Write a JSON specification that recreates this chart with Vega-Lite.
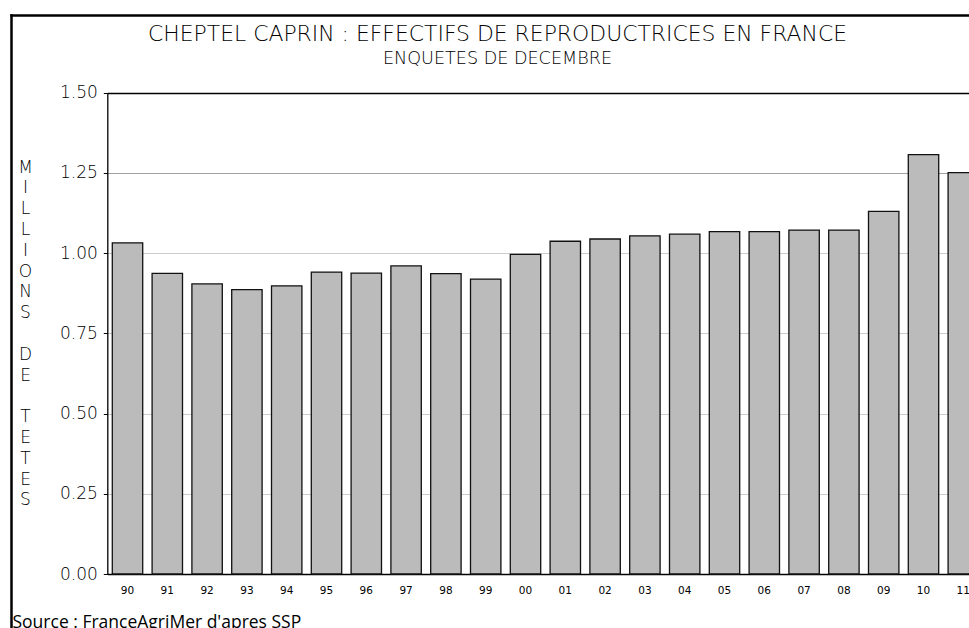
{
  "$schema": "https://vega.github.io/schema/vega-lite/v6.json",
  "width": 958,
  "height": 613,
  "autosize": {"type": "none"},
  "padding": {"left": 11, "top": 15, "right": 0, "bottom": 0},
  "background": "white",
  "config": {"view": {"stroke": null}},
  "title": {
    "text": "CHEPTEL CAPRIN : EFFECTIFS DE REPRODUCTRICES EN FRANCE",
    "subtitle": "ENQUETES DE DECEMBRE",
    "anchor": "middle",
    "frame": "group",
    "offset": -54,
    "dx": 7.5,
    "font": "DejaVu Sans",
    "fontSize": 21.9,
    "fontWeight": 200,
    "color": "black",
    "subtitleFont": "DejaVu Sans",
    "subtitleFontSize": 17.6,
    "subtitleFontWeight": 200,
    "subtitleColor": "black",
    "subtitlePadding": 5
  },
  "data": {
    "values": [
      {"year": "90", "value": 1.032},
      {"year": "91", "value": 0.937},
      {"year": "92", "value": 0.904},
      {"year": "93", "value": 0.886},
      {"year": "94", "value": 0.898},
      {"year": "95", "value": 0.941},
      {"year": "96", "value": 0.938},
      {"year": "97", "value": 0.960},
      {"year": "98", "value": 0.936},
      {"year": "99", "value": 0.919},
      {"year": "00", "value": 0.996},
      {"year": "01", "value": 1.037},
      {"year": "02", "value": 1.044},
      {"year": "03", "value": 1.054},
      {"year": "04", "value": 1.059},
      {"year": "05", "value": 1.067},
      {"year": "06", "value": 1.067},
      {"year": "07", "value": 1.072},
      {"year": "08", "value": 1.072},
      {"year": "09", "value": 1.130},
      {"year": "10", "value": 1.307},
      {"year": "11", "value": 1.251}
    ]
  },
  "layer": [
    {
      "mark": {"type": "bar", "fill": "#bbbbbb", "stroke": "#111111", "strokeWidth": 1.3, "clip": true},
      "encoding": {
        "x": {
          "field": "year",
          "type": "nominal",
          "sort": null,
          "scale": {"range": [96.3, 972.5], "paddingInner": 0.236, "paddingOuter": 0.1256},
          "axis": {
            "orient": "bottom",
            "offset": -54,
            "labelAngle": 0,
            "labelFont": "DejaVu Sans",
            "labelFontSize": 10.5,
            "labelColor": "black",
            "labelPadding": 11,
            "ticks": false,
            "tickSize": 0,
            "domainColor": "black",
            "domainWidth": 1.3,
            "grid": false,
            "title": "Source : FranceAgriMer d'apres SSP",
            "titleFont": "Open Sans",
            "titleFontSize": 17.5,
            "titleFontWeight": "normal",
            "titleColor": "black",
            "titleAnchor": "start",
            "titleAlign": "left",
            "titleBaseline": "alphabetic",
            "titleX": 1,
            "titleY": 53
          }
        },
        "y": {
          "field": "value",
          "type": "quantitative",
          "scale": {"domain": [0, 1.5], "range": [559, 77.7], "nice": false, "zero": true},
          "axis": {
            "orient": "left",
            "offset": -96.3,
            "values": [0, 0.25, 0.5, 0.75, 1, 1.25, 1.5],
            "format": ".2f",
            "labelFont": "DejaVu Sans",
            "labelFontSize": 17,
            "labelFontWeight": 200,
            "labelColor": "black",
            "labelPadding": 6,
            "tickSize": 4,
            "tickColor": "black",
            "domainColor": "black",
            "domainWidth": 1.3,
            "grid": true,
            "gridColor": {
              "condition": [
                {"test": "datum.value === 1.5", "value": "#000000"},
                {"test": "datum.value === 1.25", "value": "#a0a0a0"}
              ],
              "value": "#cccccc"
            },
            "gridWidth": {
              "condition": {"test": "datum.value === 1.5", "value": 1.3},
              "value": 1
            },
            "title": ["M", "I", "L", "L", "I", "O", "N", "S", "\u200b", "D", "E", "\u200b", "T", "E", "T", "E", "S"],
            "titleFont": "DejaVu Sans",
            "titleFontSize": 17,
            "titleFontWeight": 200,
            "titleColor": "black",
            "titleAngle": 0,
            "titleAlign": "center",
            "titleBaseline": "top",
            "titleX": -82.3,
            "titleY": 144,
            "titleLineHeight": 20.8
          }
        }
      }
    },
    {
      "mark": {"type": "point", "opacity": 0},
      "encoding": {
        "x": {
          "field": "value",
          "type": "quantitative",
          "scale": {"domain": [0, 2]},
          "axis": {"orient": "top", "offset": 0, "domainColor": "black", "domainWidth": 2.5, "domainCap": "square", "ticks": false, "labels": false, "grid": false, "title": null}
        },
        "y": {
          "field": "value",
          "type": "quantitative",
          "scale": {"domain": [0, 2]},
          "axis": {"orient": "left", "offset": 0, "domainColor": "black", "domainWidth": 2.5, "domainCap": "square", "ticks": false, "labels": false, "grid": false, "title": null}
        }
      }
    }
  ],
  "resolve": {"scale": {"x": "independent", "y": "independent"}}
}
